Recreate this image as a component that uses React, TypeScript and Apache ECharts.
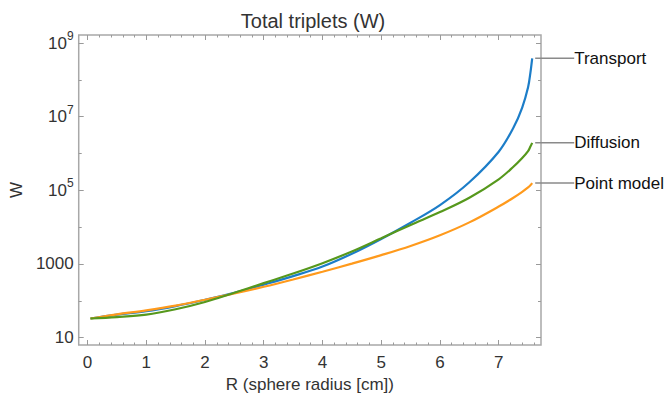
import React, { useEffect, useRef } from "react";
import * as echarts from "echarts";

const radius = [0.05, 0.5, 1, 1.5, 2, 2.5, 3, 3.5, 4, 4.5, 5, 5.5, 6, 6.5, 7, 7.25, 7.4, 7.5, 7.54, 7.57];
const transport = [33, 42, 52, 72, 107, 166, 275, 468, 851, 1900, 4800, 13200, 39800, 166000, 1120000, 5000000, 17800000, 63000000, 158000000, 385000000];
const diffusion = [33, 36, 42, 59, 93, 166, 302, 550, 1050, 2190, 5010, 11500, 25700, 63100, 200000, 437000, 759000, 1170000, 1550000, 1950000];
const pointModel = [33, 43, 55, 74, 107, 158, 240, 380, 617, 1020, 1740, 3090, 6030, 13500, 36300, 63100, 91200, 120000, 138000, 158000];

const seriesNames = ["Transport", "Point model", "Diffusion"];
const seriesColors = ["#1c7dc8", "#ff9a1c", "#56981c"];

const xMajorTicks = [0, 1, 2, 3, 4, 5, 6, 7];
const xMinorTicks = [0, 0.2, 0.4, 0.6, 0.8, 1, 1.2, 1.4, 1.6, 1.8, 2, 2.2, 2.4, 2.6, 2.8, 3, 3.2, 3.4, 3.6, 3.8, 4, 4.2, 4.4, 4.6, 4.8, 5, 5.2, 5.4, 5.6, 5.8, 6, 6.2, 6.4, 6.6, 6.8, 7, 7.2, 7.4, 7.6];
const yMajorTicks = [10, 1000, 100000, 10000000, 1000000000];
const yMinorTicks = [100, 10000, 1000000, 100000000];

const X_MIN = -0.15;
const X_MAX = 7.72;
const Y_MIN = 6.3;
const Y_MAX = 1.66e9;

const FONT = "'Liberation Sans', Arial, Helvetica, sans-serif";
const TICK_COLOR = "#9a9a9a";

function yLabel(v: number): string {
  if (v < 10000) return String(Math.round(v));
  const e = Math.round(Math.log10(v));
  return `{b|10}{s|${e}}`;
}

export default function App() {
  const ref = useRef<HTMLDivElement>(null);
  useEffect(() => {
    if (!ref.current) return;
    const chart = echarts.init(ref.current, undefined, { renderer: "svg" });
    const datasets = [transport, pointModel, diffusion];
    const n = radius.length;

    const mkX = (pos: string, ticks: number[], len: number, labels: boolean, name?: string) => ({
      type: "value",
      position: pos,
      min: X_MIN,
      max: X_MAX,
      name: name,
      nameLocation: "middle",
      nameGap: 29,
      nameTextStyle: { fontFamily: FONT, fontSize: 17, color: "#333" },
      axisLine: { show: false, onZero: false },
      splitLine: { show: false },
      axisTick: { show: true, inside: true, length: len, customValues: ticks, lineStyle: { color: TICK_COLOR, width: 1 } },
      axisLabel: labels
        ? { show: true, customValues: ticks, margin: 9, fontFamily: FONT, fontSize: 17, color: "#333" }
        : { show: false },
    });

    const mkY = (pos: string, ticks: number[], len: number, labels: boolean, name?: string) => ({
      type: "log",
      logBase: 10,
      position: pos,
      min: Y_MIN,
      max: Y_MAX,
      name: name,
      nameLocation: "middle",
      nameGap: 50,
      nameRotate: 90,
      nameTextStyle: { fontFamily: FONT, fontSize: 17, color: "#333" },
      axisLine: { show: false, onZero: false },
      splitLine: { show: false },
      minorTick: { show: false },
      axisTick: { show: true, inside: true, length: len, customValues: ticks, lineStyle: { color: TICK_COLOR, width: 1 } },
      axisLabel: labels
        ? {
            show: true,
            customValues: ticks,
            margin: 5,
            formatter: yLabel,
            fontFamily: FONT,
            fontSize: 17,
            color: "#333",
            rich: {
              b: { fontFamily: FONT, fontSize: 17, color: "#333" },
              s: { fontFamily: FONT, fontSize: 12, color: "#333", padding: [0, 0, 14, 0] },
            },
          }
        : { show: false },
    });

    const series = datasets.map((vals, si) => ({
      type: "line",
      name: seriesNames[si],
      xAxisIndex: 0,
      yAxisIndex: 0,
      smooth: 0.35,
      showSymbol: true,
      symbol: "circle",
      symbolSize: 0,
      lineStyle: { color: seriesColors[si], width: 2.2 },
      itemStyle: { color: seriesColors[si] },
      emphasis: { disabled: true },
      labelLayout: { dx: 37 },
      labelLine: { show: true, lineStyle: { color: "#8a8a8a", width: 1.5 } },
      data: radius.map((r, i) =>
        i === n - 1
          ? {
              value: [r, vals[i]],
              symbolSize: 6,
              itemStyle: { color: "rgba(0,0,0,0)", borderWidth: 0 },
              label: {
                show: true,
                position: "right",
                distance: 2,
                formatter: seriesNames[si],
                fontFamily: FONT,
                fontSize: 17,
                color: "#111",
              },
              labelLine: { show: true, lineStyle: { color: "#8a8a8a", width: 1.5 } },
            }
          : [r, vals[i]]
      ),
    }));

    chart.setOption({
      animation: false,
      backgroundColor: "#ffffff",
      title: {
        text: "Total triplets (W)",
        left: 308,
        textAlign: "center",
        top: 6,
        textStyle: { fontFamily: FONT, fontSize: 20, fontWeight: "normal", color: "#333" },
      },
      grid: {
        left: 77,
        right: 125,
        top: 35,
        bottom: 54,
        show: true,
        borderColor: "#a8a8a8",
        borderWidth: 1.5,
        backgroundColor: "transparent",
      },
      xAxis: [
        mkX("bottom", xMajorTicks, 5, true, "R (sphere radius [cm])"),
        mkX("top", xMajorTicks, 5, false),
        mkX("bottom", xMinorTicks, 2.5, false),
        mkX("top", xMinorTicks, 2.5, false),
      ],
      yAxis: [
        mkY("left", yMajorTicks, 5, true, "W"),
        mkY("right", yMajorTicks, 5, false),
        mkY("left", yMinorTicks, 3, false),
        mkY("right", yMinorTicks, 3, false),
      ],
      series,
    });
    return () => chart.dispose();
  }, []);
  return <div ref={ref} style={{ position: "fixed", left: 0, top: 0, width: 666, height: 399 }} />;
}
